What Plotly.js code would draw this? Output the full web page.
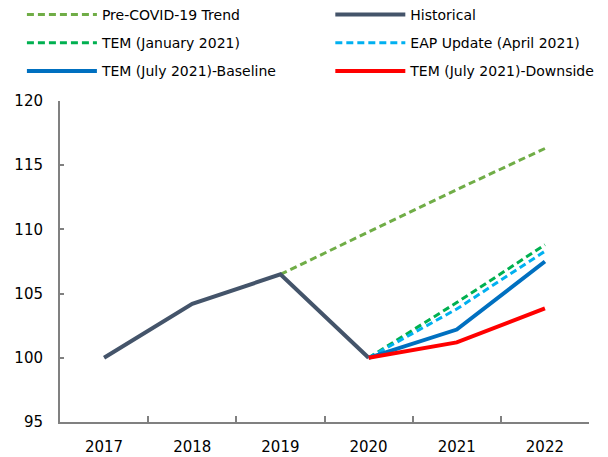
<!DOCTYPE html>
<html>
<head>
<meta charset="utf-8">
<script src="https://cdn.plot.ly/plotly-3.0.1.min.js"></script>
<style>html,body{margin:0;padding:0;background:#fff;}#chart{width:608px;height:457px;}</style>
</head>
<body>
<div id="chart"></div>
<script>
const years = ['2017', '2018', '2019', '2020', '2021', '2022'];
const preCovidYears = ['2019', '2020', '2021', '2022'];
const preCovidTrend = [106.5, 109.8, 113.1, 116.3];
const historicalYears = ['2017', '2018', '2019', '2020'];
const historical = [100, 104.2, 106.5, 100];
const forecastYears = ['2020', '2021', '2022'];
const temJan2021 = [100, 104.3, 108.8];
const eapApr2021 = [100, 103.8, 108.3];
const temJul2021Base = [100, 102.2, 107.5];
const temJul2021Down = [100, 101.2, 103.85];
const yTicks = [95, 100, 105, 110, 115, 120];

const font = 'DejaVu Sans, sans-serif';
const dash = '7px,4px';

const traces = [
  {name: 'Pre-COVID-19 Trend', x: preCovidYears, y: preCovidTrend, line: {color: '#70AD47', width: 3, dash: dash}, legend: 'legend', legendgroup: 'a'},
  {name: 'Historical', x: historicalYears, y: historical, line: {color: '#44546A', width: 4}, legend: 'legend2', legendgroup: 'b'},
  {name: 'TEM (January 2021)', x: forecastYears, y: temJan2021, line: {color: '#00B050', width: 3, dash: dash}, legend: 'legend', legendgroup: 'c'},
  {name: 'EAP Update (April 2021)', x: forecastYears, y: eapApr2021, line: {color: '#00B0F0', width: 3, dash: dash}, legend: 'legend2', legendgroup: 'd'},
  {name: 'TEM (July 2021)-Baseline', x: forecastYears, y: temJul2021Base, line: {color: '#0070C0', width: 4}, legend: 'legend', legendgroup: 'e'},
  {name: 'TEM (July 2021)-Downside', x: forecastYears, y: temJul2021Down, line: {color: '#FF0000', width: 4}, legend: 'legend2', legendgroup: 'f'}
].map(t => Object.assign({type: 'scatter', mode: 'lines', hoverinfo: 'skip'}, t));

const legendCommon = {
  orientation: 'v', xanchor: 'left', yanchor: 'top',
  font: {family: font, size: 14, color: '#000'},
  bgcolor: 'rgba(0,0,0,0)', borderwidth: 0,
  tracegroupgap: 7, itemwidth: 70, traceorder: 'grouped'
};

const layout = {
  width: 608, height: 457,
  margin: {l: 60, r: 19, t: 101, b: 35, autoexpand: false},
  paper_bgcolor: '#fff', plot_bgcolor: '#fff',
  font: {family: font, size: 15, color: '#000'},
  showlegend: true,
  legend: Object.assign({}, legendCommon, {x: -0.072, y: 1.318}),
  legend2: Object.assign({}, legendCommon, {x: 0.511, y: 1.318}),
  xaxis: {
    type: 'category', categoryorder: 'array', categoryarray: years,
    range: [-0.5, 5.5], showgrid: false, zeroline: false,
    showline: true, linecolor: '#808080', linewidth: 2,
    ticks: 'inside', ticklen: 6, tickcolor: '#808080', tickwidth: 2,
    tickson: 'boundaries', ticklabelstandoff: 10,
    tickfont: {family: font, size: 15, color: '#000'}
  },
  yaxis: {
    range: [95, 120], tickvals: yTicks, showgrid: false, zeroline: false,
    showline: true, linecolor: '#808080', linewidth: 2,
    ticks: 'inside', ticklen: 4, tickcolor: '#808080', tickwidth: 2,
    ticklabelstandoff: 12,
    tickfont: {family: font, size: 15, color: '#000'}
  }
};

Plotly.newPlot('chart', traces, layout, {displayModeBar: false, staticPlot: true});
</script>
</body>
</html>
